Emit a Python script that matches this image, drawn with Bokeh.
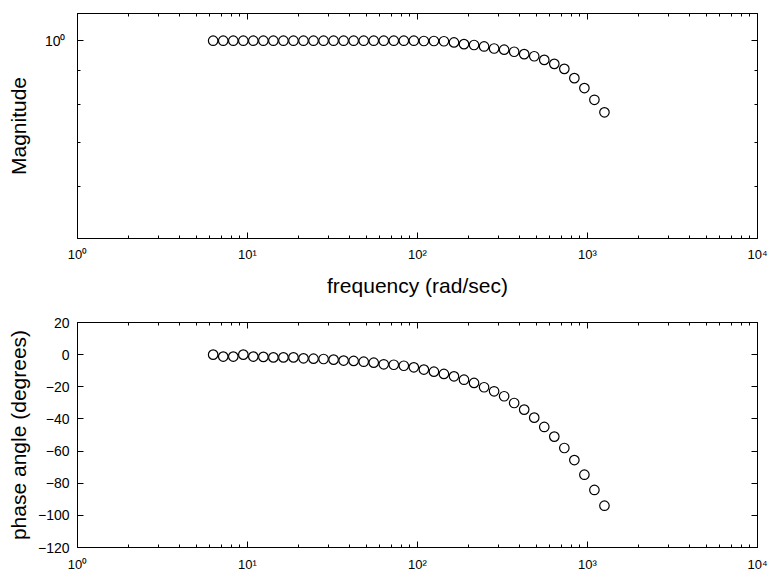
from bokeh.plotting import figure
from bokeh.models import FixedTicker, LogAxis, LinearAxis, Range1d
from bokeh.layouts import column
from bokeh.embed import file_html
from bokeh.resources import INLINE

# ---- data ----
freq = [6.28, 7.20, 8.25, 9.45, 10.82, 12.40, 14.20, 16.27, 18.64, 21.35,
        24.45, 28.02, 32.09, 36.76, 42.11, 48.25, 55.27, 63.31, 72.52, 83.08,
        95.15, 109.0, 124.9, 143.0, 163.9, 187.7, 215.1, 246.4, 282.2, 323.3,
        370.3, 424.2, 486.0, 556.7, 637.8, 730.6, 836.9, 958.7, 1098.0, 1258.0]
magnitude = [1.0, 1.0, 1.0, 1.0, 1.0, 1.0, 1.0, 1.0, 1.0, 1.0,
             1.0, 1.0, 1.0, 1.0, 1.0, 1.0, 1.0, 1.0, 1.0, 1.0,
             1.0, 0.999, 0.999, 0.998, 0.994, 0.988, 0.985, 0.980, 0.973, 0.969,
             0.962, 0.954, 0.947, 0.935, 0.922, 0.906, 0.877, 0.847, 0.813, 0.778]
phase = [0, -1.2, -1.2, 0, -1.2, -1.4, -1.7, -1.7, -1.7, -2.3,
         -2.5, -2.7, -3.1, -3.7, -3.9, -4.4, -5.0, -6.0, -6.3, -6.9,
         -7.9, -9.3, -10.6, -12.0, -13.5, -15.6, -17.6, -20.3, -22.8, -25.9,
         -30.1, -34.2, -39.2, -45.0, -51.0, -58.1, -65.6, -74.7, -84.2, -94.0]

x_ticks = [1, 10, 100, 1000, 10000]
x_tick_labels = ["10\u2070", "10\u00b9", "10\u00b2", "10\u00b3", "10\u2074"]
mag_ticks = [1]
mag_tick_labels = ["10\u2070"]
mag_minor = [0.6, 0.7, 0.8, 0.9]
phase_ticks = [-120, -100, -80, -60, -40, -20, 0, 20]

FONT = "Liberation Sans"
x_minor = [m * d for d in [1, 10, 100, 1000] for m in range(2, 10)]


def style_axis(ax, label_size="13px"):
    ax.axis_line_color = "black"
    ax.axis_line_width = 1
    ax.major_tick_in = 6
    ax.major_tick_out = 0
    ax.minor_tick_in = 3
    ax.minor_tick_out = 0
    ax.major_tick_line_color = "black"
    ax.minor_tick_line_color = "black"
    ax.major_label_text_font = FONT
    ax.major_label_text_font_size = label_size
    ax.major_label_text_color = "black"
    ax.axis_label_text_font = FONT
    ax.axis_label_text_font_size = "21px"
    ax.axis_label_text_font_style = "normal"
    ax.axis_label_text_color = "black"


def mirror(ax):
    style_axis(ax, "1px")
    ax.major_label_text_alpha = 0
    ax.major_label_standoff = 0


xover = {t: l for t, l in zip(x_ticks, x_tick_labels)}

# ---- magnitude figure ----
p1 = figure(width=769, height=300, x_axis_type="log", y_axis_type="log",
            x_range=Range1d(1, 10000), y_range=Range1d(0.5, 1.1),
            output_backend="svg", toolbar_location=None,
            min_border_left=77, min_border_right=12, min_border_top=13,
            min_border_bottom=62)
p1.outline_line_color = "black"
p1.xgrid.visible = False
p1.ygrid.visible = False
p1.scatter(freq, magnitude, size=9.5, fill_color=None, line_color="black",
           line_width=1.2)
p1.xaxis.ticker = FixedTicker(ticks=x_ticks, minor_ticks=x_minor)
p1.xaxis.major_label_overrides = xover
p1.yaxis.ticker = FixedTicker(ticks=mag_ticks, minor_ticks=mag_minor)
p1.yaxis.major_label_overrides = {t: l for t, l in zip(mag_ticks, mag_tick_labels)}
style_axis(p1.xaxis[0])
style_axis(p1.yaxis[0], "14px")
p1.xaxis.major_label_standoff = 8
p1.xaxis.axis_label = "frequency (rad/sec)"
p1.xaxis.axis_label_standoff = 9
p1.yaxis.major_label_standoff = 12
p1.yaxis.axis_label = "Magnitude"
p1.yaxis.axis_label_standoff = 12

top1 = LogAxis(ticker=FixedTicker(ticks=x_ticks, minor_ticks=x_minor))
mirror(top1)
p1.add_layout(top1, "above")
right1 = LogAxis(ticker=FixedTicker(ticks=mag_ticks, minor_ticks=mag_minor))
mirror(right1)
p1.add_layout(right1, "right")

# ---- phase figure ----
p2 = figure(width=769, height=275, x_axis_type="log",
            x_range=Range1d(1, 10000), y_range=Range1d(-120, 20),
            output_backend="svg", toolbar_location=None,
            min_border_left=77, min_border_right=12, min_border_top=22,
            min_border_bottom=28)
p2.outline_line_color = "black"
p2.xgrid.visible = False
p2.ygrid.visible = False
p2.scatter(freq, phase, size=9.5, fill_color=None, line_color="black",
           line_width=1.2)
p2.xaxis.ticker = FixedTicker(ticks=x_ticks, minor_ticks=x_minor)
p2.xaxis.major_label_overrides = xover
p2.yaxis.ticker = FixedTicker(ticks=phase_ticks, minor_ticks=[])
style_axis(p2.xaxis[0])
style_axis(p2.yaxis[0], "14px")
p2.xaxis.major_label_standoff = 9
p2.yaxis.major_label_standoff = 8
p2.yaxis.axis_label = "phase angle (degrees)"
p2.yaxis.axis_label_standoff = 5

top2 = LogAxis(ticker=FixedTicker(ticks=x_ticks, minor_ticks=x_minor))
mirror(top2)
p2.add_layout(top2, "above")
right2 = LinearAxis(ticker=FixedTicker(ticks=phase_ticks, minor_ticks=[]))
mirror(right2)
p2.add_layout(right2, "right")

layout = column(p1, p2, spacing=0)
open("out.html", "w").write(file_html(layout, INLINE))
